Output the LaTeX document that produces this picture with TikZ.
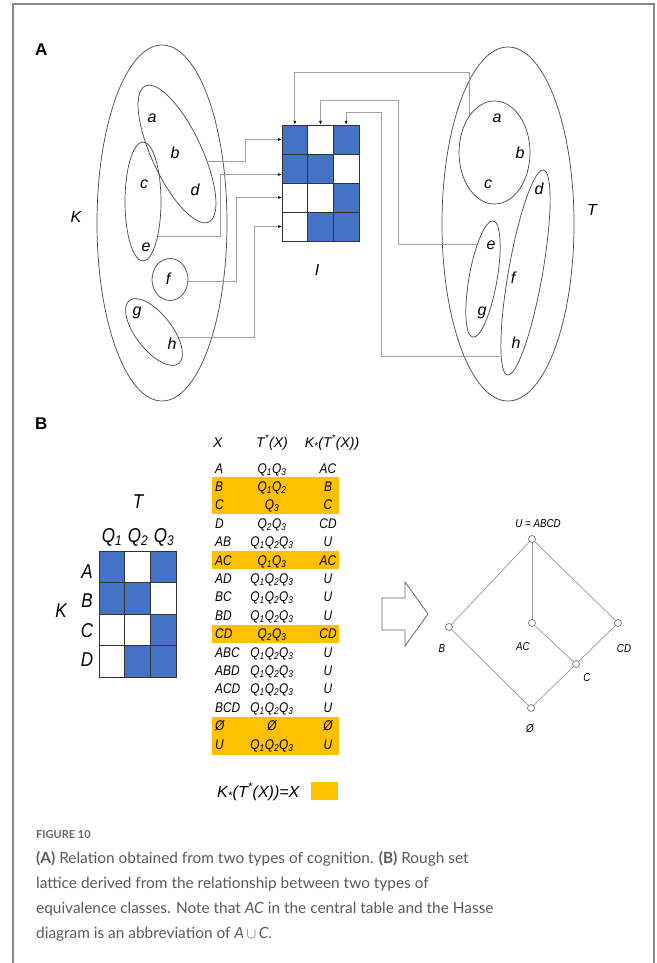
\documentclass[tikz,border=0pt]{standalone}
\usepackage{fontspec}
\setmainfont{Liberation Sans}
\newfontfamily\condsf[FakeStretch=0.85]{Liberation Sans}
\newfontfamily\capfont{Lato}
\usetikzlibrary{arrows.meta}

\definecolor{cellblue}{RGB}{68,114,196}
\definecolor{hilite}{RGB}{255,192,0}
\definecolor{framegray}{RGB}{136,136,136}
\definecolor{wiregray}{RGB}{160,160,160}
\definecolor{inkgray}{RGB}{70,70,70}
\definecolor{captext}{RGB}{90,90,90}

\newcommand\Qi[1]{Q\textsubscript{#1}}
\newcommand\Tstar{T\textsuperscript{*}}
\newcommand\Klow{K\textsubscript{*}}

\begin{document}
\begin{tikzpicture}[x=1pt,y=-1pt,
  panel/.style={font=\fontsize{17}{17}\selectfont\bfseries, inner sep=0pt, anchor=base west},
  lbl/.style={font=\fontsize{16}{16}\selectfont\itshape, inner sep=0pt},
  biglbl/.style={font=\condsf\itshape\fontsize{20}{20}\selectfont, inner sep=0pt, anchor=base},
  tbl/.style={font=\condsf\itshape\fontsize{14}{14}\selectfont, inner sep=0pt, anchor=base},
  tblhead/.style={font=\itshape\fontsize{14}{14}\selectfont, inner sep=0pt, anchor=base},
  hlbl/.style={font=\condsf\itshape\fontsize{11.5}{12}\selectfont, inner sep=0pt},
  setline/.style={draw=inkgray, line width=0.7pt},
  wire/.style={draw=wiregray, line width=0.8pt},
  wirearr/.style={wire, -{Latex[length=4pt,width=3pt,color=black]}},
  cellA/.style={draw=black!80, line width=0.6pt, minimum width=25.67pt, minimum height=29pt, inner sep=0pt, outer sep=0pt},
  cellB/.style={draw=black!80, line width=0.6pt, minimum width=25.67pt, minimum height=31.5pt, inner sep=0pt, outer sep=0pt},
  hnode/.style={circle, draw=black!60, fill=white, line width=0.6pt, minimum size=7pt, inner sep=0pt},
  hasse/.style={draw=black!40, line width=0.7pt},
  captxt/.style={font=\capfont\fontsize{15.4}{15.4}\selectfont, text=captext, inner sep=0pt, anchor=base west}]

\useasboundingbox (0,0) rectangle (656,963);

% outer frame
\draw[framegray, line width=2pt] (13,963) -- (13,4) -- (654,4) -- (654,963);

% ---------------- panel A ----------------
\node[panel] (pA) at (35,56) {A};

% relation matrix I
\foreach \r/\c/\f in {1/1/cellblue,1/2/white,1/3/cellblue,
                      2/1/cellblue,2/2/cellblue,2/3/white,
                      3/1/white,3/2/white,3/3/cellblue,
                      4/1/white,4/2/cellblue,4/3/cellblue}
  \node[cellA, fill=\f] (t\r\c) at ({282+25.67*(\c-0.5)}, {125+29*(\r-0.5)}) {};
\node[lbl] (lI) at (317,270) {I};

% partition K
\draw[setline] (162,223) ellipse[x radius=65, y radius=178];
\draw[setline, rotate around={25:(177,154)}] (177,154) ellipse[x radius=25, y radius=75];
\draw[setline] (143,201.5) ellipse[x radius=18, y radius=59.5];
\draw[setline] (170,279.5) ellipse[x radius=18, y radius=21];
\draw[setline, rotate around={38:(154,332)}] (154,332) ellipse[x radius=18, y radius=40];
\node[lbl] (kK) at (76,217) {K};
\node[lbl] (ka) at (152,118) {a};
\node[lbl] (kb) at (175,153) {b};
\node[lbl] (kc) at (144,184) {c};
\node[lbl] (kd) at (195,190) {d};
\node[lbl] (ke) at (146,247) {e};
\node[lbl] (kf) at (168,279) {f};
\node[lbl] (kg) at (137,313) {g};
\node[lbl] (kh) at (172,344) {h};

% partition T
\draw[setline] (508,224) ellipse[x radius=66, y radius=177];
\draw[setline] (494.5,152.5) ellipse[x radius=35.5, y radius=51.5];
\draw[setline, rotate around={-10:(483,279)}] (483,279) ellipse[x radius=14, y radius=59];
\draw[setline, rotate around={-10:(525.5,272.5)}] (525.5,272.5) ellipse[x radius=17, y radius=104];
\node[lbl] (tT) at (592,210) {T};
\node[lbl] (ta) at (497,118) {a};
\node[lbl] (tb) at (520,153) {b};
\node[lbl] (tc) at (488,184) {c};
\node[lbl] (td) at (539,189) {d};
\node[lbl] (te) at (491,245) {e};
\node[lbl] (tf) at (513,278) {f};
\node[lbl] (tg) at (482,313) {g};
\node[lbl] (th) at (516,343) {h};

% connector ends on the class outlines
\coordinate (sKabd) at (207,161);
\coordinate (sKce)  at (158,236);
\coordinate (sKf)   at (188,281);
\coordinate (sKgh)  at (179,337);
\coordinate (sTabc) at (469,116);
\coordinate (sTeg)  at (477,244);
\coordinate (sTdfh) at (500,356);

% K classes -> rows
\draw[wirearr] (sKabd) -- ++(38,0) |- (t11.west);
\draw[wirearr] (sKce)  -- ++(62,0) |- ([yshift=-6pt]t21.west);
\draw[wirearr] (sKf)   -- ++(48,0) |- (t31.west);
\draw[wirearr] (sKgh)  -- ++(75,0) |- (t41.west);
% T classes -> columns
\draw[wirearr] (sTabc) -- ++(0,-44) -| (t11.north);
\draw[wirearr] (sTeg)  -- ++(-79,0) -- ++(0,-144) -| (t12.north);
\draw[wirearr] (sTdfh) -- ++(-119,0) -- ++(0,-244) -| (t13.north);

% ---------------- panel B ----------------
\node[panel] (pB) at (35,429) {B};

% small relation matrix
\foreach \r/\c/\f in {1/1/cellblue,1/2/white,1/3/cellblue,
                      2/1/cellblue,2/2/cellblue,2/3/white,
                      3/1/white,3/2/white,3/3/cellblue,
                      4/1/white,4/2/cellblue,4/3/cellblue}
  \node[cellB, fill=\f] (b\r\c) at ({99+25.67*(\c-0.5)}, {551+31.5*(\r-0.5)}) {};
\node[biglbl] (bT)  at (138,508) {T};
\node[biglbl] (bQ1) at (112,542) {\Qi{1}};
\node[biglbl] (bQ2) at (138,542) {\Qi{2}};
\node[biglbl] (bQ3) at (164,542) {\Qi{3}};
\node[biglbl] (bA)  at (87,578) {A};
\node[biglbl] (bB)  at (87,607) {B};
\node[biglbl] (bC)  at (87,637) {C};
\node[biglbl] (bD)  at (87,666) {D};
\node[biglbl] (bK)  at (61,617) {K};

% highlighted rows where the approximation returns X
\fill[hilite] (212,477) rectangle (339,514);
\fill[hilite] (212,551) rectangle (339,569);
\fill[hilite] (212,624.5) rectangle (339,643);
\fill[hilite] (212,717) rectangle (339,755);

% table header
\node[tblhead, anchor=base west] (hX) at (213,447) {X};
\node[tblhead] (hT) at (272,447) {\Tstar(X)};
\node[tblhead] (hK) at (332,447) {\Klow(\Tstar(X))};

% table body
\foreach [count=\i from 0] \xa/\tb/\kc in {
    A/\Qi1\Qi3/AC, B/\Qi1\Qi2/B, C/\Qi3/C, D/\Qi2\Qi3/CD,
    AB/\Qi1\Qi2\Qi3/U, AC/\Qi1\Qi3/AC, AD/\Qi1\Qi2\Qi3/U, BC/\Qi1\Qi2\Qi3/U,
    BD/\Qi1\Qi2\Qi3/U, CD/\Qi2\Qi3/CD, ABC/\Qi1\Qi2\Qi3/U, ABD/\Qi1\Qi2\Qi3/U,
    ACD/\Qi1\Qi2\Qi3/U, BCD/\Qi1\Qi2\Qi3/U, Ø/Ø/Ø, U/\Qi1\Qi2\Qi3/U} {
  \node[tbl, anchor=base west] (rx\i) at (215,{473+18.4*\i}) {\xa};
  \node[tbl] (rt\i) at (272,{473+18.4*\i}) {\tb};
  \node[tbl] (rk\i) at (328,{473+18.4*\i}) {\kc};
}

% legend
\node[tblhead, anchor=base west, font=\itshape\fontsize{16}{16}\selectfont] (leg) at (217,797) {\Klow(\Tstar(X))=X};
\fill[hilite] (311,782) rectangle (338,800);

% hollow arrow
\draw[draw=black!60, line width=0.8pt, fill=white]
  (382,598) -- (405,598) -- (405,582) -- (428,614) -- (405,646) -- (405,630) -- (382,630) -- cycle;

% Hasse diagram
\node[hnode] (hU)  at (532,539) {};
\node[hnode] (hB)  at (449,627) {};
\node[hnode] (hAC) at (532,623) {};
\node[hnode] (hCD) at (618,623) {};
\node[hnode] (hC)  at (576,664) {};
\node[hnode] (hE)  at (531,708) {};
\draw[hasse] (hU) -- (hB);
\draw[hasse] (hU) -- (hAC);
\draw[hasse] (hU) -- (hCD);
\draw[hasse] (hB) -- (hE);
\draw[hasse] (hAC) -- (hC);
\draw[hasse] (hCD) -- (hC);
\draw[hasse] (hC) -- (hE);
\node[hlbl] (lU)  at (538,524) {U = ABCD};
\node[hlbl] (lB)  at (442,649) {B};
\node[hlbl] (lAC) at (523,647) {AC};
\node[hlbl] (lCD) at (624,649) {CD};
\node[hlbl] (lC)  at (587,678) {C};
\node[hlbl] (lE)  at (530,729) {Ø};

% caption
\node[captxt, font=\capfont\bfseries\fontsize{11}{11}\selectfont, text=black!60] (fig) at (36,838) {FIGURE 10};
\node[captxt] (c1) at (36,863) {\textbf{(A)} Relation obtained from two types of cognition. \textbf{(B)} Rough set};
\node[captxt] (c2) at (36,888) {lattice derived from the relationship between two types of};
\node[captxt] (c3) at (36,913) {equivalence classes. Note that \textit{AC} in the central table and the Hasse};
\node[captxt] (c4) at (36,938) {diagram is an abbreviation of \textit{A}\,$\cup$\,\textit{C}.};

\end{tikzpicture}
\end{document}
